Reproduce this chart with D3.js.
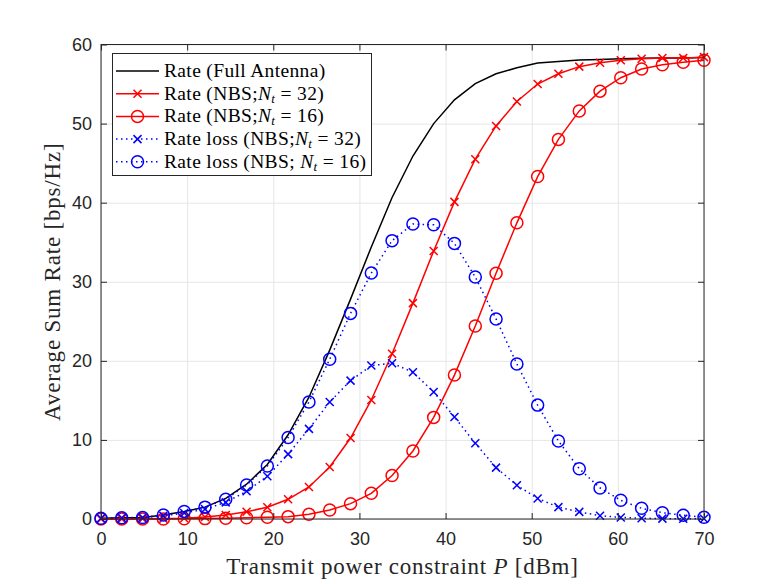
<!DOCTYPE html>
<html><head><meta charset="utf-8">
<script src="https://cdn.jsdelivr.net/npm/d3@7"></script>
<style>body{margin:0;background:#fff}</style>
</head><body>
<svg id="c" width="778" height="584"></svg>
<script>
const power = [0, 2.41, 4.83, 7.24, 9.66, 12.07, 14.48, 16.9, 19.31, 21.72, 24.14, 26.55, 28.97, 31.38, 33.79, 36.21, 38.62, 41.03, 43.45, 45.86, 48.28, 50.69, 53.1, 55.52, 57.93, 60.34, 62.76, 65.17, 67.59, 70];
const rateFull = [0.1,0.15,0.2,0.5,0.95,1.5,2.6,4.4,6.9,10.65,15.4,21.35,27.8,34.4,40.65,45.9,50.0,53.0,55.05,56.3,57.05,57.65,57.85,58.05,58.1,58.2,58.25,58.3,58.3,58.35];
const rateNBS32 = [0,0,0.02,0.05,0.1,0.25,0.5,0.92,1.48,2.49,4.05,6.58,10.24,15.05,20.9,27.3,33.9,40.1,45.5,49.7,52.8,55.0,56.3,57.2,57.7,58.0,58.2,58.3,58.3,58.4];
const rateNBS16 = [0,0,0,0,0.02,0.05,0.1,0.15,0.22,0.3,0.6,1.14,1.94,3.25,5.5,8.6,12.85,18.2,24.4,31.07,37.45,43.3,48.0,51.6,54.1,55.8,56.9,57.45,57.75,58.0];
const lossNBS32 = [0.1,0.15,0.2,0.4,0.75,1.25,2.1,3.5,5.4,8.2,11.4,14.8,17.5,19.4,19.7,18.55,16.06,12.9,9.57,6.5,4.26,2.6,1.5,0.9,0.42,0.2,0.1,0.05,0.03,0.02];
const lossNBS16 = [0.1,0.15,0.2,0.5,0.95,1.5,2.5,4.3,6.7,10.3,14.8,20.2,26.0,31.1,35.2,37.3,37.2,34.85,30.6,25.3,19.6,14.4,9.86,6.36,3.92,2.36,1.35,0.8,0.47,0.21];
const xTicks = [0,10,20,30,40,50,60,70];
const yTicks = [0,10,20,30,40,50,60];

const svg = d3.select('#c');
const L = 101, R = 704, T = 44.5, B = 519;
const x = d3.scaleLinear().domain([0,70]).range([L,R]);
const y = d3.scaleLinear().domain([0,60]).range([B,T]);
const axisColor = '#262626';
const serif = "'Liberation Serif','Times New Roman',serif";
const sans = "'Liberation Sans',Arial,Helvetica,sans-serif";

svg.append('rect').attr('width',778).attr('height',584).attr('fill','#fff');

// grid
const grid = svg.append('g');
grid.append('g').attr('transform',`translate(0,${B})`)
  .call(d3.axisBottom(x).tickValues(xTicks).tickSize(-(B-T)).tickFormat(''))
  .call(g=>{g.select('.domain').remove(); g.selectAll('line').attr('stroke','#e6e6e6').attr('stroke-width',1);});
grid.append('g').attr('transform',`translate(${L},0)`)
  .call(d3.axisLeft(y).tickValues(yTicks).tickSize(-(R-L)).tickFormat(''))
  .call(g=>{g.select('.domain').remove(); g.selectAll('line').attr('stroke','#e6e6e6').attr('stroke-width',1);});

// series
const line = d3.line().x((d,i)=>x(power[i])).y(d=>y(d));
const xPath = 'M-4,-4L4,4M-4,4L4,-4';
function series(vals, color, dash, marker){
  svg.append('path').datum(vals).attr('d',line).attr('fill','none')
    .attr('stroke',color).attr('stroke-width',1.5).attr('stroke-dasharray',dash||null);
  if(marker==='x'){
    svg.append('g').selectAll('path').data(vals).join('path')
      .attr('transform',(d,i)=>`translate(${x(power[i])},${y(d)})`)
      .attr('d',xPath).attr('stroke',color).attr('stroke-width',1.5).attr('fill','none');
  } else if(marker==='o'){
    svg.append('g').selectAll('circle').data(vals).join('circle')
      .attr('cx',(d,i)=>x(power[i])).attr('cy',d=>y(d)).attr('r',6)
      .attr('stroke',color).attr('stroke-width',1.5).attr('fill','none');
  }
}
series(rateFull,'#000',null,null);
series(rateNBS32,'#ff0000',null,'x');
series(rateNBS16,'#ff0000',null,'o');
series(lossNBS32,'#0000ff','1.5,3.5','x');
series(lossNBS16,'#0000ff','1.5,3.5','o');

// axes box + ticks
svg.append('rect').attr('x',L).attr('y',T).attr('width',R-L).attr('height',B-T)
  .attr('fill','none').attr('stroke',axisColor).attr('stroke-width',1);
const styleAxis = g=>{g.select('.domain').remove(); g.selectAll('line').attr('stroke',axisColor);
  g.selectAll('text').attr('fill',axisColor).style('font-family',sans).style('font-size','18px');};
svg.append('g').attr('transform',`translate(0,${B})`)
  .call(d3.axisBottom(x).tickValues(xTicks).tickSize(-6).tickPadding(13)).call(styleAxis);
svg.append('g').attr('transform',`translate(0,${T})`)
  .call(d3.axisTop(x).tickValues(xTicks).tickSize(-6).tickFormat('')).call(styleAxis);
svg.append('g').attr('transform',`translate(${L},0)`)
  .call(d3.axisLeft(y).tickValues(yTicks).tickSize(-6).tickPadding(9)).call(styleAxis);
svg.append('g').attr('transform',`translate(${R},0)`)
  .call(d3.axisRight(y).tickValues(yTicks).tickSize(-6).tickFormat('')).call(styleAxis);

// axis labels
const xl = svg.append('text').attr('x',(L+R)/2).attr('y',574).attr('text-anchor','middle')
  .style('font-family',serif).style('font-size','23px').style('letter-spacing','0.75px').attr('fill',axisColor);
xl.append('tspan').text('Transmit power constraint ');
xl.append('tspan').attr('font-style','italic').text('P');
xl.append('tspan').text(' [dBm]');
svg.append('text').attr('transform',`translate(60,${(T+B)/2}) rotate(-90)`).attr('text-anchor','middle')
  .style('font-family',serif).style('font-size','23px').style('letter-spacing','0.8px').attr('fill',axisColor)
  .text('Average Sum Rate [bps/Hz]');

// legend
const legendItems = [
  {pre:'Rate (Full Antenna)', nt:false, color:'#000', dash:null, marker:null},
  {pre:'Rate (NBS;', nt:true, post:' = 32)', color:'#ff0000', dash:null, marker:'x'},
  {pre:'Rate (NBS;', nt:true, post:' = 16)', color:'#ff0000', dash:null, marker:'o'},
  {pre:'Rate loss (NBS;', nt:true, post:' = 32)', color:'#0000ff', dash:'1.5,3.5', marker:'x'},
  {pre:'Rate loss (NBS; ', nt:true, post:' = 16)', color:'#0000ff', dash:'1.5,3.5', marker:'o'}
];
const lg = svg.append('g');
lg.append('rect').attr('x',112.5).attr('y',53.5).attr('width',259).attr('height',122)
  .attr('fill','#fff').attr('stroke',axisColor).attr('stroke-width',1);
legendItems.forEach((it,k)=>{
  const cy = 71 + k*22.7;
  lg.append('line').attr('x1',116).attr('x2',159).attr('y1',cy).attr('y2',cy)
    .attr('stroke',it.color).attr('stroke-width',1.5).attr('stroke-dasharray',it.dash);
  if(it.marker==='x') lg.append('path').attr('transform',`translate(137.5,${cy})`).attr('d',xPath)
    .attr('stroke',it.color).attr('stroke-width',1.5).attr('fill','none');
  if(it.marker==='o') lg.append('circle').attr('cx',137.5).attr('cy',cy).attr('r',6)
    .attr('stroke',it.color).attr('stroke-width',1.5).attr('fill','none');
  const t = lg.append('text').attr('x',164).attr('y',cy+6).style('font-family',serif)
    .style('font-size','19.5px').style('letter-spacing','0.35px').attr('fill','#000').attr('xml:space','preserve');
  t.append('tspan').text(it.pre);
  if(it.nt){
    t.append('tspan').attr('font-style','italic').text('N');
    t.append('tspan').attr('font-style','italic').attr('font-size','13px').attr('dy',3).text('t');
    t.append('tspan').attr('dy',-3).text(it.post);
  }
});
</script>
</body></html>
